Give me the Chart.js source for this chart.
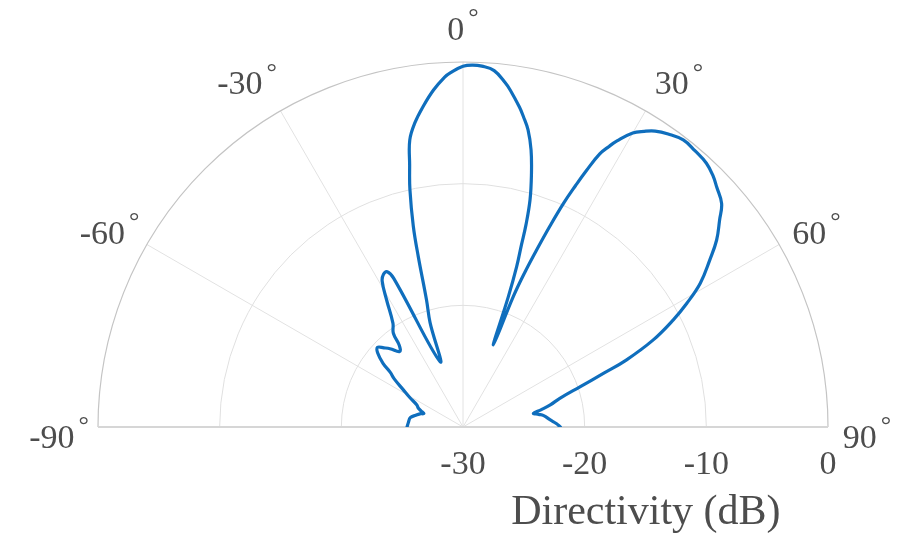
<!DOCTYPE html>
<html>
<head>
<meta charset="utf-8">
<script src="https://cdn.jsdelivr.net/npm/chart.js@4.4.1/dist/chart.umd.min.js"></script>
<style>
  html, body { margin: 0; padding: 0; background: #ffffff; }
  #wrap { width: 900px; height: 548px; }
</style>
</head>
<body>
<div id="wrap"><canvas id="c" width="900" height="548"></canvas></div>
<script>
// ---- data ----
const angleDeg = [
  -90, -85, -80, -76, -73, -71, -69, -67, -64.5, -61, -58, -55, -53, -51.5, -49, -47, -45, -43, -40, -38,
  -36.6, -34, -31, -29, -27.5, -26, -25, -19.4, -17.5, -16.0, -14.7, -13.9, -12.6, -11.5, -10.5, -9, -7, -5,
  -3, -2, 0, 1.5, 3, 5, 7, 8, 10, 11, 12.35, 13.8, 15.2, 16.45, 17.3, 17.8, 18.5, 19.2, 20.3, 21.1, 21.8, 22.6, 23.4,
  24.2, 25, 25.7, 26.6, 27.5, 28.3, 30, 31.5, 33, 35, 37.5, 40, 42.7, 45, 46.6, 49.15, 51.1, 53.6, 55.9,
  58.8, 61.1, 63.0, 65.4, 67.7, 69.1, 71.0, 73.5, 75.8, 77.5, 79, 80.5, 82, 85.4, 88, 90
];
const directivityDb = [
  -25.4, -25.5, -25.6, -26.0, -26.3, -26.6, -26.3, -26.0, -25.8, -25.0, -24.2, -23.1, -22.5, -21.6, -20.7, -20.4, -20.8, -21.2, -21.9, -21.5,
  -20.4, -19.7, -17.8, -16.3, -15.85, -15.8, -16.5, -24.3, -21.0, -19.1, -15.5, -13.0, -10.0, -8.0, -6.0, -4.7, -3.4, -2.2,
  -1.2, -0.85, -0.35, -0.24, -0.3, -0.6, -1.5, -2.05, -3.3, -4.0, -5.0, -6.55, -8.55, -10.55, -12.6, -14.3, -16.1, -18.7, -22.8, -18.5, -16.3, -14.2, -12.0,
  -9.85, -8.1, -6.6, -4.9, -4.0, -3.3, -2.1, -1.5, -1.0, -0.6, -0.26, -0.35, -0.5, -0.9, -1.3, -1.9, -2.9, -4.1, -5.5,
  -7.2, -9.0, -10.6, -12.8, -15.5, -17.65, -19.8, -21.7, -22.6, -23.4, -24.1, -23.7, -23.3, -22.8, -22.3, -22.0
];
const thetaTicks = [-90, -60, -30, 0, 30, 60, 90];
const rTicks = [-30, -20, -10, 0];
const rMin = -30, rMax = 0;
const axisTitle = 'Directivity (dB)';

// ---- build points (polar -> cartesian in data units) ----
const pts = angleDeg.map((a, i) => {
  const r = directivityDb[i] - rMin;
  const t = a * Math.PI / 180;
  return { x: r * Math.sin(t), y: r * Math.cos(t) };
});

const SERIF = "'Liberation Serif', 'Times New Roman', serif";
const TXT = '#4d4d4d';

const polarGrid = {
  id: 'polarGrid',
  beforeDatasetsDraw(chart) {
    const { ctx, scales: { x, y } } = chart;
    const cx = x.getPixelForValue(0), cy = y.getPixelForValue(0);
    const Rout = x.getPixelForValue(rMax - rMin) - cx;
    ctx.save();
    // spokes
    ctx.strokeStyle = '#e2e2e2';
    ctx.lineWidth = 1;
    thetaTicks.forEach(a => {
      if (Math.abs(a) === 90) return;
      const t = a * Math.PI / 180;
      ctx.beginPath();
      ctx.moveTo(cx, cy);
      ctx.lineTo(cx + Rout * Math.sin(t), cy - Rout * Math.cos(t));
      ctx.stroke();
    });
    // rings
    rTicks.forEach(v => {
      const rr = x.getPixelForValue(v - rMin) - cx;
      if (rr <= 0) return;
      ctx.beginPath();
      ctx.arc(cx, cy, rr, Math.PI, 2 * Math.PI);
      ctx.strokeStyle = (v === rMax) ? '#c4c4c4' : '#e0e0e0';
      ctx.lineWidth = (v === rMax) ? 1.2 : 1;
      ctx.stroke();
    });
    // baseline
    ctx.beginPath();
    ctx.moveTo(cx - Rout, cy);
    ctx.lineTo(cx + Rout, cy);
    ctx.strokeStyle = '#d6d6d6';
    ctx.lineWidth = 2;
    ctx.stroke();
    ctx.restore();
  },
  afterDraw(chart) {
    const { ctx, scales: { x, y } } = chart;
    const cx = x.getPixelForValue(0), cy = y.getPixelForValue(0);
    const Rout = x.getPixelForValue(rMax - rMin) - cx;
    ctx.save();
    ctx.fillStyle = TXT;
    // theta labels
    const numFont = '34px ' + SERIF, degFont = '26px ' + SERIF;
    thetaTicks.forEach(a => {
      const t = a * Math.PI / 180;
      const rl = Rout + 43;
      let bx = cx + rl * Math.sin(t);
      const by = cy - rl * Math.cos(t) + 4;
      // labels at +-30 sit a little further out horizontally, +-90 a little inward
      if (Math.abs(a) === 30) bx += Math.sign(a) * 12;
      if (Math.abs(a) === 90) bx -= Math.sign(a) * 4;
      const s = String(a);
      ctx.font = numFont;
      const wN = ctx.measureText(s).width;
      ctx.font = degFont;
      const wD = ctx.measureText('\u00B0').width;
      const gap = 4;
      const W = wN + gap + wD;
      const left = bx - W / 2;
      const base = by + 16.5;
      ctx.textAlign = 'left';
      ctx.textBaseline = 'alphabetic';
      ctx.font = numFont;
      ctx.fillText(s, left, base);
      const digitTop = base - 0.676 * 34;
      ctx.font = degFont;
      ctx.fillText('\u00B0', left + wN + gap, digitTop + 8.5);
    });
    // radial tick labels
    ctx.font = '34px ' + SERIF;
    ctx.textAlign = 'center';
    ctx.textBaseline = 'alphabetic';
    rTicks.forEach(v => {
      const px = x.getPixelForValue(v - rMin);
      ctx.fillText(String(v), px, cy + 47);
    });
    // axis title
    ctx.font = '42px ' + SERIF;
    ctx.textAlign = 'center';
    ctx.fillText(axisTitle, cx + Rout * 0.501, cy + 97);
    ctx.restore();
  }
};

new Chart(document.getElementById('c'), {
  type: 'scatter',
  data: {
    datasets: [{
      data: pts,
      showLine: true,
      borderColor: '#0F6EBD',
      borderWidth: 3.2,
      borderJoinStyle: 'round',
      borderCapStyle: 'round',
      pointRadius: 0,
      tension: 0.4,
      fill: false
    }]
  },
  options: {
    responsive: false,
    animation: false,
    devicePixelRatio: 1,
    layout: { padding: { left: 98, right: 72, top: 62, bottom: 121 } },
    plugins: { legend: { display: false }, tooltip: { enabled: false } },
    scales: {
      x: { type: 'linear', min: -30, max: 30, display: false },
      y: { type: 'linear', min: 0, max: 30, display: false }
    }
  },
  plugins: [polarGrid]
});
</script>
</body>
</html>
